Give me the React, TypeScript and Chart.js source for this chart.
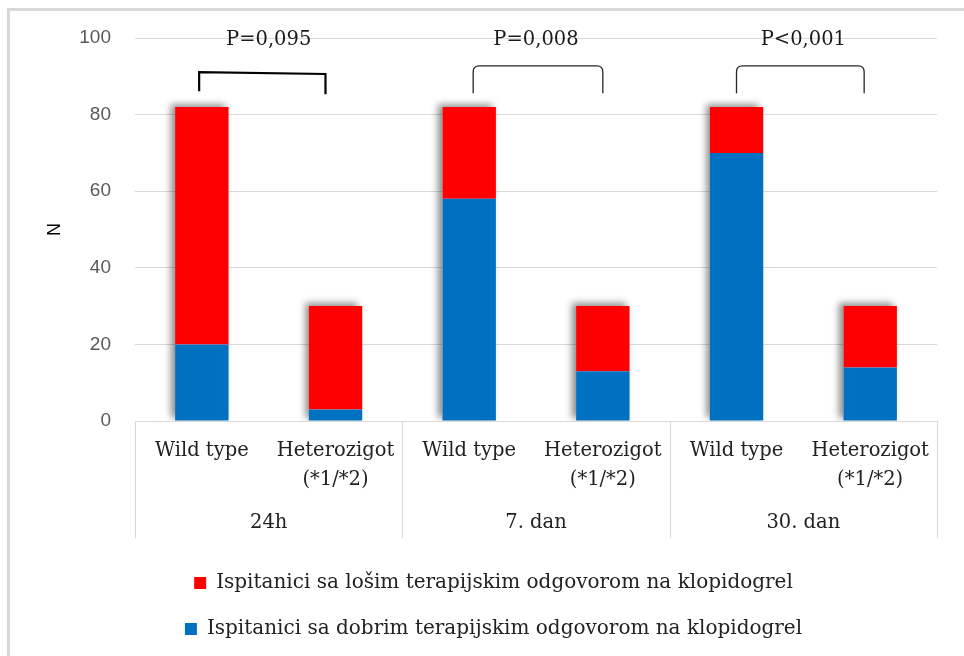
import React, { useEffect, useRef } from 'react';
import { Chart, registerables } from 'chart.js';

Chart.register(...registerables);

// ---- data ----
const categories: (string | string[])[] = [
  'Wild type', ['Heterozigot', '(*1/*2)'],
  'Wild type', ['Heterozigot', '(*1/*2)'],
  'Wild type', ['Heterozigot', '(*1/*2)'],
];
const periods = ['24h', '7. dan', '30. dan'];
const goodResponse = [20, 3, 58, 13, 70, 14];
const poorResponse = [62, 27, 24, 17, 12, 16];
const goodLabel = 'Ispitanici sa dobrim terapijskim odgovorom na klopidogrel';
const poorLabel = 'Ispitanici sa lošim terapijskim odgovorom na klopidogrel';
const yMin = 0;
const yMax = 100;
const yStep = 20;

// annotation (p-value brackets), in data units
const pValues = ['P=0,095', 'P=0,008', 'P<0,001'];
const pLabelValue = 99.5;
const bracketFrom = [-0.02, 2.03, 4];
const bracketTo = [0.925, 3, 4.955];
const bracketTopLeft = [91.1, 92.7, 92.7];
const bracketTopRight = [90.6, 92.7, 92.7];
const bracketBottomLeft = [86.1, 85.6, 85.6];
const bracketBottomRight = [85.3, 85.6, 85.6];
const bracketRounded = [false, true, true];

const SERIF = "'DejaVu Serif', serif";
const SANS = "'Liberation Sans', Arial, sans-serif";

const barShadow = {
  id: 'barShadow',
  beforeDatasetsDraw(chart: any) {
    const { ctx, chartArea } = chart;
    const m0 = chart.getDatasetMeta(0);
    const m1 = chart.getDatasetMeta(1);
    ctx.save();
    ctx.beginPath();
    ctx.rect(chartArea.left, chartArea.top - 20, chartArea.right - chartArea.left, chartArea.bottom - chartArea.top + 20);
    ctx.clip();
    ctx.shadowColor = 'rgba(0,0,0,0.45)';
    ctx.shadowBlur = 7;
    ctx.shadowOffsetX = -4;
    ctx.shadowOffsetY = -3;
    ctx.fillStyle = '#ffffff';
    for (let i = 0; i < m0.data.length; i++) {
      const b = m0.data[i].getProps(['x', 'width', 'base'], true);
      const t = m1.data[i].getProps(['y'], true);
      ctx.fillRect(b.x - b.width / 2, t.y, b.width, b.base - t.y);
    }
    ctx.restore();
  },
};

const separators = {
  id: 'separators',
  afterDraw(chart: any) {
    const { ctx } = chart;
    const x = chart.scales.x;
    const x2 = chart.scales.x2;
    ctx.save();
    ctx.strokeStyle = '#d9d9d9';
    ctx.lineWidth = 1;
    for (let g = 0; g <= periods.length; g++) {
      const px = Math.round(x2.getPixelForValue(g - 0.5)) + 0.5;
      ctx.beginPath();
      ctx.moveTo(px, x.top);
      ctx.lineTo(px, x2.bottom);
      ctx.stroke();
    }
    ctx.restore();
  },
};

const brackets = {
  id: 'brackets',
  afterDatasetsDraw(chart: any) {
    const { ctx } = chart;
    const x = chart.scales.x;
    const y = chart.scales.y;
    ctx.save();
    for (let i = 0; i < pValues.length; i++) {
      const x1 = x.getPixelForValue(bracketFrom[i]);
      const x2 = x.getPixelForValue(bracketTo[i]);
      const ytl = y.getPixelForValue(bracketTopLeft[i]);
      const ytr = y.getPixelForValue(bracketTopRight[i]);
      const ybl = y.getPixelForValue(bracketBottomLeft[i]);
      const ybr = y.getPixelForValue(bracketBottomRight[i]);
      ctx.beginPath();
      if (bracketRounded[i]) {
        const r = 6;
        ctx.strokeStyle = '#262626';
        ctx.lineWidth = 1.3;
        ctx.moveTo(x1, ybl);
        ctx.lineTo(x1, ytl + r);
        ctx.quadraticCurveTo(x1, ytl, x1 + r, ytl);
        ctx.lineTo(x2 - r, ytr);
        ctx.quadraticCurveTo(x2, ytr, x2, ytr + r);
        ctx.lineTo(x2, ybr);
      } else {
        ctx.strokeStyle = '#000000';
        ctx.lineWidth = 2.2;
        ctx.moveTo(x1, ybl);
        ctx.lineTo(x1, ytl);
        ctx.lineTo(x2, ytr);
        ctx.lineTo(x2, ybr);
      }
      ctx.stroke();

      const cx = (x.getPixelForValue(2 * i) + x.getPixelForValue(2 * i + 1)) / 2;
      ctx.fillStyle = '#1a1a1a';
      ctx.font = `19.5px ${SERIF}`;
      ctx.textAlign = 'center';
      ctx.textBaseline = 'middle';
      ctx.fillText(pValues[i], cx, y.getPixelForValue(pLabelValue));
    }
    ctx.restore();
  },
};

export default function App() {
  const ref = useRef<HTMLCanvasElement | null>(null);

  useEffect(() => {
    if (!ref.current) return;
    const chart = new Chart(ref.current, {
      type: 'bar',
      data: {
        labels: categories,
        datasets: [
          {
            label: goodLabel,
            data: goodResponse,
            backgroundColor: '#0070C0',
            borderWidth: 0,
            barPercentage: 0.4,
            categoryPercentage: 1,
            xAxisID: 'x',
            yAxisID: 'y',
          },
          {
            label: poorLabel,
            data: poorResponse,
            backgroundColor: '#FF0000',
            borderWidth: 0,
            barPercentage: 0.4,
            categoryPercentage: 1,
            xAxisID: 'x',
            yAxisID: 'y',
          },
        ],
      },
      options: {
        animation: false,
        responsive: false,
        devicePixelRatio: 1,
        layout: { padding: { left: 50, right: 27, top: 38, bottom: 7 } },
        scales: {
          x: {
            stacked: true,
            offset: true,
            grid: { display: false, drawTicks: false },
            border: { display: true, color: '#d9d9d9', width: 1 },
            ticks: {
              autoSkip: false,
              maxRotation: 0,
              minRotation: 0,
              padding: 15,
              color: '#222222',
              font: { family: SERIF, size: 19.5, lineHeight: 1.5 },
            },
            afterFit: (s: any) => { s.height = 70; },
          },
          x2: {
            type: 'category',
            labels: periods,
            position: 'bottom',
            offset: true,
            grid: { display: false, drawTicks: false },
            border: { display: false },
            ticks: {
              autoSkip: false,
              maxRotation: 0,
              padding: 20,
              color: '#222222',
              font: { family: SERIF, size: 19.5 },
            },
            afterFit: (s: any) => { s.height = 47; },
          },
          y: {
            stacked: true,
            min: yMin,
            max: yMax,
            ticks: {
              stepSize: yStep,
              padding: 24,
              color: '#595959',
              font: { family: SANS, size: 19 },
            },
            grid: { color: '#d9d9d9', drawTicks: false, lineWidth: 1 },
            border: { display: false },
            title: {
              display: true,
              text: 'N',
              color: '#000000',
              font: { family: SANS, size: 18 },
              padding: { top: -6, bottom: 0 },
            },
            afterFit: (s: any) => { s.width = 85; },
          },
        },
        plugins: {
          legend: {
            position: 'bottom',
            reverse: true,
            maxHeight: 119,
            title: { display: true, text: ' ', font: { size: 7.5 }, padding: 0 },
            labels: {
              boxWidth: 12,
              boxHeight: 12,
              padding: 26,
              color: '#222222',
              font: { family: SERIF, size: 20 },
            },
          },
          tooltip: { enabled: false },
        },
      } as any,
      plugins: [barShadow, brackets, separators],
    });
    return () => chart.destroy();
  }, []);

  return (
    <div style={{ position: 'fixed', left: 0, top: 0, width: 964, height: 656, background: '#ffffff', overflow: 'hidden' }}>
      <canvas ref={ref} width={964} height={656} style={{ display: 'block', width: 964, height: 656 }} />
      <div
        style={{
          position: 'absolute', left: 7, top: 8, right: -10, bottom: -10,
          borderLeft: '3px solid #d9d9d9', borderTop: '3px solid #d9d9d9', pointerEvents: 'none',
        }}
      />
    </div>
  );
}
